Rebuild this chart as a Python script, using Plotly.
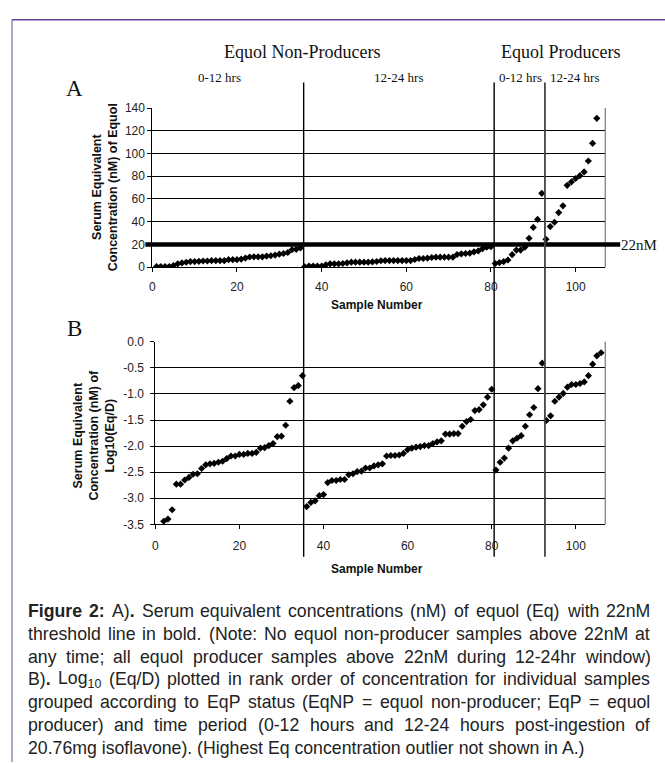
import plotly.graph_objects as go

# ---------------- data ----------------
# Panel A: serum equivalent concentration (nM) of equol, rank ordered within groups
A_EQNP_0_12 = [0.5, 0.5, 0.5, 0.5, 1.4, 2.9, 3.7, 4.3, 4.9, 4.9, 5.1, 5.4, 5.4, 5.7, 5.7,
               5.7, 5.7, 6.6, 6.6, 6.6, 7.1, 8.0, 8.9, 9.1, 9.1, 9.1, 9.7, 10.0, 10.6, 11.4,
               12.0, 12.9, 15.4, 15.7, 16.9]
A_EQNP_12_24 = [0.3, 0.9, 0.9, 0.9, 0.9, 2.0, 2.9, 2.9, 2.9, 3.2, 3.8, 4.4, 4.4, 4.4, 4.4,
                4.4, 4.7, 5.0, 5.6, 5.8, 5.8, 5.8, 5.8, 5.8, 5.8, 5.8, 6.7, 7.6, 7.6, 7.9,
                8.5, 8.8, 8.8, 8.8, 8.8, 8.8, 11.1, 11.7, 12.0, 12.3, 13.5, 14.3, 16.3, 17.5, 18.0]
A_EQP_0_12 = [3.2, 4.0, 4.9, 6.3, 11.0, 15.0, 15.0, 17.6, 25.4, 35.0, 42.0, 65.0]
A_EQP_12_24 = [24.5, 35.7, 39.5, 48.0, 54.0, 72.0, 75.0, 78.0, 80.5, 83.8, 93.4, 109.0, 131.0]
A_SAMPLE_START = 1

# Panel B: Log10(Eq/D)
B_EQNP_0_12 = [-3.44, -3.40, -3.22, -2.73, -2.73, -2.65, -2.60, -2.54, -2.53, -2.43,
               -2.36, -2.34, -2.33, -2.31, -2.29, -2.24, -2.19, -2.19, -2.16, -2.16,
               -2.14, -2.14, -2.12, -2.04, -2.03, -1.99, -1.95, -1.82, -1.81, -1.60,
               -1.14, -0.88, -0.84, -0.65]
B_EQNP_12_24 = [-3.16, -3.08, -3.05, -2.95, -2.93, -2.70, -2.66, -2.66, -2.64, -2.64,
                -2.55, -2.53, -2.49, -2.48, -2.42, -2.42, -2.38, -2.36, -2.34, -2.19,
                -2.18, -2.18, -2.17, -2.14, -2.07, -2.04, -2.02, -2.01, -1.99, -1.99,
                -1.95, -1.92, -1.90, -1.77, -1.77, -1.76, -1.76, -1.62, -1.53, -1.49,
                -1.32, -1.30, -1.21, -1.06, -0.91]
B_EQP_0_12 = [-2.46, -2.31, -2.23, -2.04, -1.90, -1.85, -1.80, -1.62, -1.40, -1.26, -0.90, -0.41]
B_EQP_12_24 = [-1.51, -1.42, -1.14, -1.06, -0.99, -0.87, -0.82, -0.82, -0.80, -0.77,
               -0.65, -0.43, -0.27, -0.21]
B_SAMPLE_START = 2

THRESHOLD_DRAWN = 20          # bold threshold line as drawn in panel A
THRESHOLD_LABEL = "22nM"

X_TICKS = [0, 20, 40, 60, 80, 100]
X_TICK_LABELS = ["0", "20", "40", "60", "80", "100"]
A_Y_TICKS = [0, 20, 40, 60, 80, 100, 120, 140]
A_Y_TICK_LABELS = ["0", "20", "40", "60", "80", "100", "120", "140"]
B_Y_TICKS = [0.0, -0.5, -1.0, -1.5, -2.0, -2.5, -3.0, -3.5]
B_Y_TICK_LABELS = ["0.0", "-0.5", "-1.0", "-1.5", "-2.0", "-2.5", "-3.0", "-3.5"]

GROUP_TITLES = ["Equol Non-Producers", "Equol Producers"]
PERIOD_LABELS = ["0-12 hrs", "12-24 hrs", "0-12 hrs", "12-24 hrs"]
A_YTITLE = "Serum Equivalent<br>Concentration (nM) of Equol"
B_YTITLE = "Serum Equivalent<br>Concentration (nM) of<br>Log10(Eq/D)"
X_TITLE = "Sample Number"

CAPTION_LINES = [
    "<b>Figure</b> <b>2:</b> A)<b>.</b> Serum equivalent concentrations (nM) of equol (Eq) with 22nM",
    "threshold line in bold. (Note: No equol non-producer samples above 22nM at",
    "any time; all equol producer samples above 22nM during 12-24hr window)",
    "B)<b>.</b> Log<sub>10</sub> (Eq/D) plotted in rank order of concentration for individual samples",
    "grouped according to EqP status (EqNP = equol non-producer; EqP = equol",
    "producer) and time period (0-12 hours and 12-24 hours post-ingestion of",
    "20.76mg isoflavone). (Highest Eq concentration outlier not shown in A.)",
]

# ---------------- derived series ----------------
a_groups = [A_EQNP_0_12, A_EQNP_12_24, A_EQP_0_12, A_EQP_12_24]
b_groups = [B_EQNP_0_12, B_EQNP_12_24, B_EQP_0_12, B_EQP_12_24]
a_y = [v for g in a_groups for v in g]
b_y = [v for g in b_groups for v in g]
a_x = list(range(A_SAMPLE_START, A_SAMPLE_START + len(a_y)))
b_x = list(range(B_SAMPLE_START, B_SAMPLE_START + len(b_y)))

# group boundaries (sample number between groups of panel A)
bounds = []
acc = A_SAMPLE_START - 1
for g in a_groups[:-1]:
    acc += len(g)
    bounds.append(acc + 0.5)

# ---------------- layout helpers ----------------
W, H = 665, 764
SERIF = "Liberation Serif, Times New Roman, serif"
SANS = "Liberation Sans, Arial, sans-serif"


def px(x):
    return x / W


def py(y):
    return 1 - y / H


fig = go.Figure()
marker = dict(symbol="diamond", size=5.5, color="black", line=dict(width=0))
fig.add_trace(go.Scatter(x=a_x, y=a_y, mode="markers", marker=marker,
                         xaxis="x", yaxis="y", showlegend=False, hoverinfo="skip"))
fig.add_trace(go.Scatter(x=b_x, y=b_y, mode="markers", marker=marker,
                         xaxis="x2", yaxis="y2", showlegend=False, hoverinfo="skip"))

tickfont = dict(family=SANS, size=12, color="#222")
common_x = dict(range=[0, 107], tickvals=X_TICKS, ticktext=X_TICK_LABELS, showgrid=False,
                showline=True, linecolor="black", linewidth=1, ticks="outside", ticklen=4,
                tickcolor="black", tickfont=tickfont, zeroline=False, fixedrange=True)
common_y = dict(showgrid=True, gridcolor="black", gridwidth=1, showline=True,
                linecolor="black", linewidth=1, ticks="outside", ticklen=4,
                tickcolor="black", tickfont=tickfont, zeroline=False, fixedrange=True)

fig.update_layout(
    width=W, height=H, autosize=False,
    margin=dict(l=0, r=0, t=0, b=0, pad=0),
    paper_bgcolor="white", plot_bgcolor="white",
    xaxis=dict(domain=[px(150), px(605)], anchor="y", ticklabelstandoff=4, **common_x),
    yaxis=dict(domain=[py(265), py(103)], anchor="x", range=[0, 140],
               tickvals=A_Y_TICKS, ticktext=A_Y_TICK_LABELS, **common_y),
    xaxis2=dict(domain=[px(153), px(605)], anchor="y2", ticklabelstandoff=6, **common_x),
    yaxis2=dict(domain=[py(527), py(341)], anchor="x2", range=[-3.5, 0],
                tickvals=B_Y_TICKS, ticktext=B_Y_TICK_LABELS, ticklabelstandoff=4, **common_y),
)

shapes = []
# right borders of plot areas
for xr, yr in (("x domain", "y domain"), ("x2 domain", "y2 domain")):
    shapes.append(dict(type="line", xref=xr, yref=yr, x0=1, x1=1, y0=0, y1=1,
                       line=dict(color="#777", width=1.2)))
# bold threshold line
shapes.append(dict(type="line", xref="paper", yref="y", x0=px(143), x1=px(620),
                   y0=THRESHOLD_DRAWN, y1=THRESHOLD_DRAWN, line=dict(color="black", width=4.5)))
# vertical group separators spanning both panels
for i, b in enumerate(bounds):
    shapes.append(dict(type="line", xref="x", yref="paper", x0=b + 0.25, x1=b + 0.25,
                       y0=py(560), y1=py(77),
                       line=dict(color="#444" if i == 2 else "black", width=1.8 if i == 2 else 1.4)))
# purple frame
shapes.append(dict(type="line", xref="paper", yref="paper", x0=px(9), x1=px(9),
                   y0=py(H + 5), y1=py(13), line=dict(color="#9c86c9", width=1.5)))
shapes.append(dict(type="line", xref="paper", yref="paper", x0=px(9), x1=px(W + 5),
                   y0=py(13), y1=py(13), line=dict(color="#5f4592", width=1.5)))

annotations = []


def ann(text, x, y, size, family=SANS, color="#111", xanchor="center", yanchor="middle",
        angle=0, align="center"):
    annotations.append(dict(text=text, x=px(x), y=py(y), xref="paper", yref="paper",
                            showarrow=False, xanchor=xanchor, yanchor=yanchor,
                            textangle=angle, align=align,
                            font=dict(family=family, size=size, color=color)))


ann(GROUP_TITLES[0], 300, 46, 18, SERIF)
ann(GROUP_TITLES[1], 560, 46, 18, SERIF)
for lab, cx in zip(PERIOD_LABELS, [217, 397, 520, 574]):
    ann(lab, cx, 72, 13, SERIF)
ann("A", 72, 83, 23, SERIF)
ann("B", 72, 328, 23, SERIF)
ann(THRESHOLD_LABEL, 619, 242, 15, SERIF, xanchor="left")
ann("<b>" + A_YTITLE + "</b>", 102, 184, 12.5, SANS, angle=-90)
ann("<b>" + B_YTITLE + "</b>", 91, 436, 12.5, SANS, angle=-90)
ann("<b>" + X_TITLE + "</b>", 376, 304, 12, SANS)
ann("<b>" + X_TITLE + "</b>", 376, 572, 12, SANS)

# ---------------- caption with justified lines ----------------
HELV = {' ': 278, '(': 333, ')': 333, ',': 278, '-': 333, '.': 278, '/': 278, ':': 278,
        ';': 278, '=': 584, 'A': 667, 'B': 667, 'D': 722, 'E': 667, 'F': 611, 'H': 722,
        'M': 833, 'N': 722, 'P': 667, 'a': 556, 'b': 556, 'c': 500, 'd': 556, 'e': 556,
        'f': 278, 'g': 556, 'h': 556, 'i': 222, 'k': 500, 'l': 222, 'm': 833, 'n': 556,
        'o': 556, 'p': 556, 'q': 556, 'r': 333, 's': 500, 't': 278, 'u': 556, 'v': 500,
        'w': 722, 'x': 500, 'y': 500, 'z': 500}
HELV_B = {'F': 611, 'i': 278, 'g': 611, 'u': 611, 'r': 389, 'e': 556, '2': 556, ':': 333,
          '.': 278, ' ': 278}
CAP_SIZE = 17.7
CAP_LEFT = 23
CAP_RIGHT = 648
CAP_Y0 = 615
CAP_PITCH = 23.35


def text_width(s, size):
    w = 0.0
    bold = False
    sub = False
    i = 0
    while i < len(s):
        if s[i] == '<':
            j = s.index('>', i)
            tag = s[i + 1:j]
            if tag == 'b':
                bold = True
            elif tag == '/b':
                bold = False
            elif tag == 'sub':
                sub = True
            elif tag == '/sub':
                sub = False
            i = j + 1
            continue
        ch = s[i]
        if ch.isdigit():
            cw = 556
        elif bold:
            cw = HELV_B.get(ch, 600)
        else:
            cw = HELV.get(ch, 556)
        w += cw / 1000.0 * size * (0.7 if sub else 1.0)
        i += 1
    return w


for li, line in enumerate(CAPTION_LINES):
    y = CAP_Y0 + li * CAP_PITCH
    if li == len(CAPTION_LINES) - 1:
        ann(line, CAP_LEFT, y, CAP_SIZE, SANS, color="#222", xanchor="left")
        continue
    words = line.split(' ')
    widths = [text_width(w, CAP_SIZE) for w in words]
    gap = max(3.0, (CAP_RIGHT - CAP_LEFT - sum(widths)) / (len(words) - 1))
    x = CAP_LEFT
    for w, ww in zip(words, widths):
        ann(w, x, y, CAP_SIZE, SANS, color="#222", xanchor="left")
        x += ww + gap

fig.update_layout(shapes=shapes, annotations=annotations)

fig.write_html("out.html", config={"displayModeBar": False, "staticPlot": True},
               post_script="document.body.style.margin='0px';document.body.style.padding='0px';")
